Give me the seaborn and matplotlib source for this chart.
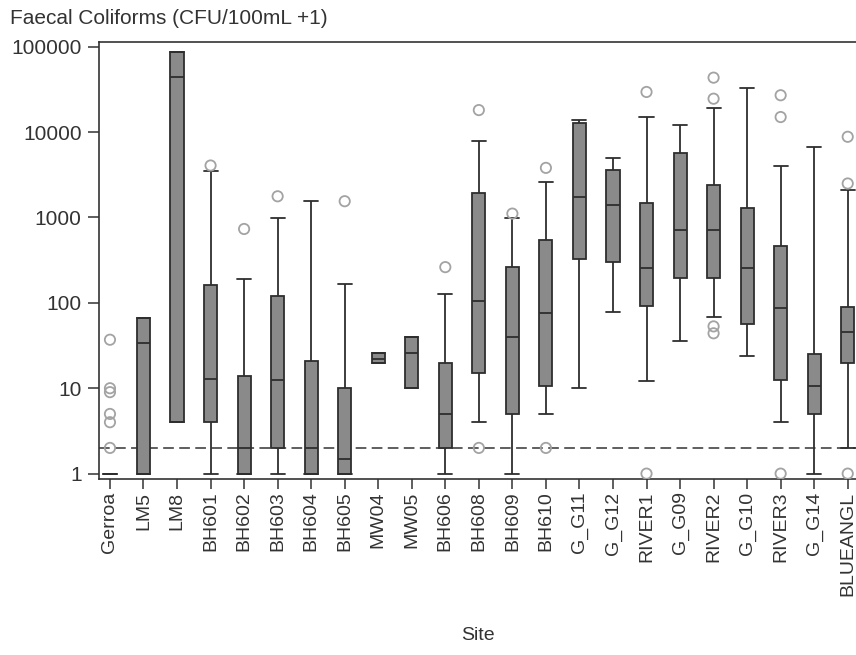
import numpy as np
import pandas as pd
import matplotlib
matplotlib.use("Agg")
import matplotlib.pyplot as plt
import matplotlib.ticker as mticker
import seaborn as sns

sites = ["Gerroa", "LM5", "LM8", "BH601", "BH602", "BH603", "BH604", "BH605",
         "MW04", "MW05", "BH606", "BH608", "BH609", "BH610", "G_G11", "G_G12",
         "RIVER1", "G_G09", "RIVER2", "G_G10", "RIVER3", "G_G14", "BLUEANGL"]

whisker_lo = [1, 1, 4, 1, 1, 1, 1, 1, 19.6, 10, 1, 4, 1, 5, 10, 79,
              12, 36, 68, 24, 4, 1, 2]
q1 = [1, 1, 4, 4, 1, 2, 1, 1, 19.6, 10, 2, 15, 5, 10.7, 330, 298,
      92, 195, 195, 56, 12.5, 5, 20]
median = [1, 34, 44700, 12.8, 2, 12.5, 2, 1.5, 22, 25.6, 5, 106, 40, 76, 1740, 1390,
          255, 707, 707, 255, 87, 10.7, 45]
q3 = [1, 67, 87000, 160, 14, 119, 21, 10, 26, 40, 19.6, 1940, 262, 540, 12900, 3550,
      1480, 5720, 2370, 1290, 459, 25, 89]
whisker_hi = [1, 67, 87000, 3480, 190, 990, 1550, 166, 26, 40, 128, 7840, 990, 2610, 13800, 5000,
              15000, 12000, 19300, 33200, 3990, 6730, 2120]

outlier_site = ["Gerroa", "Gerroa", "Gerroa", "Gerroa", "Gerroa", "Gerroa",
                "BH601", "BH602", "BH603", "BH605", "BH606", "BH608", "BH608",
                "BH609", "BH610", "BH610", "RIVER1", "RIVER1",
                "RIVER2", "RIVER2", "RIVER2", "RIVER2",
                "RIVER3", "RIVER3", "RIVER3", "BLUEANGL", "BLUEANGL", "BLUEANGL"]
outlier_value = [37, 10, 9, 5, 4, 2,
                 4060, 733, 1770, 1550, 262, 18100, 2,
                 1110, 3810, 2, 29500, 1,
                 43400, 24600, 53, 44,
                 27000, 15000, 1, 8810, 2500, 1]

threshold = 2

# long-form data for the boxes (five-number summaries)
rows = []
for i, s in enumerate(sites):
    for v in (whisker_lo[i], q1[i], median[i], q3[i], whisker_hi[i]):
        rows.append({"Site": s, "value": v})
df = pd.DataFrame(rows)
out_df = pd.DataFrame({"Site": outlier_site, "value": outlier_value})
out_df["pos"] = [sites.index(s) for s in out_df["Site"]]

box_w = 0.39
# caps only wider than the box where a whisker actually exists
cap_w = [0.42 if (whisker_hi[i] > q3[i] or whisker_lo[i] < q1[i]) else box_w
         for i in range(len(sites))]

sns.set_theme(style="white")
plt.rcParams["font.family"] = ["Liberation Sans", "DejaVu Sans"]

W, H = 856, 655
fig = plt.figure(figsize=(W / 100, H / 100), dpi=100)
left_px, right_px, top_px, bottom_px = 99, 856, 42, 479
ax = fig.add_axes([left_px / W, 1 - bottom_px / H,
                   (right_px - left_px) / W, (bottom_px - top_px) / H])

ax.axhline(threshold, color="#333333", lw=1.1, ls=(0, (7, 3.5)), zorder=0.5)

edge = "#2e2e2e"
sns.boxplot(data=df, x="Site", y="value", order=sites, log_scale=True,
            whis=(0, 100), showfliers=False, width=box_w,
            color="#8a8a8a", linecolor=edge, linewidth=1.3, saturation=1,
            capwidths=cap_w, ax=ax, zorder=2)

sns.scatterplot(data=out_df, x="pos", y="value", ax=ax, marker="o", s=55,
                facecolor="none", edgecolor="#a3a3a3", linewidth=1.3,
                legend=False, zorder=3)

ax.set_yscale("log")
ax.set_ylim(10 ** -0.063, 10 ** 5.055)
ax.set_xlim(-0.327, 22.247)
ax.yaxis.set_major_locator(mticker.FixedLocator([1, 10, 100, 1000, 10000, 100000]))
ax.yaxis.set_major_formatter(mticker.FixedFormatter(["1", "10", "100", "1000", "10000", "100000"]))
ax.yaxis.set_minor_locator(mticker.NullLocator())
ax.set_xticks(range(len(sites)))
ax.set_xticklabels(sites, rotation=90, fontsize=14, color="#333333")
ax.tick_params(axis="y", length=8, width=1.1, color="#333333", pad=4.5,
               labelsize=15, labelcolor="#333333", left=True)
ax.tick_params(axis="x", length=7, width=1.1, color="#333333", pad=2,
               bottom=True)
ax.set_xlabel("")
ax.set_ylabel("")
for side in ("left", "top", "bottom"):
    ax.spines[side].set_visible(True)
    ax.spines[side].set_color("#333333")
    ax.spines[side].set_linewidth(1.2)
ax.spines["right"].set_visible(False)
ax.grid(False)

fig.text(10 / W, 1 - 19 / H, "Faecal Coliforms (CFU/100mL +1)", fontsize=15,
         color="#333333", ha="left", va="center")
fig.text(478 / W, 1 - 636 / H, "Site", fontsize=14, color="#333333",
         ha="center", va="center")

fig.savefig("out.png", dpi=100, facecolor="white")
